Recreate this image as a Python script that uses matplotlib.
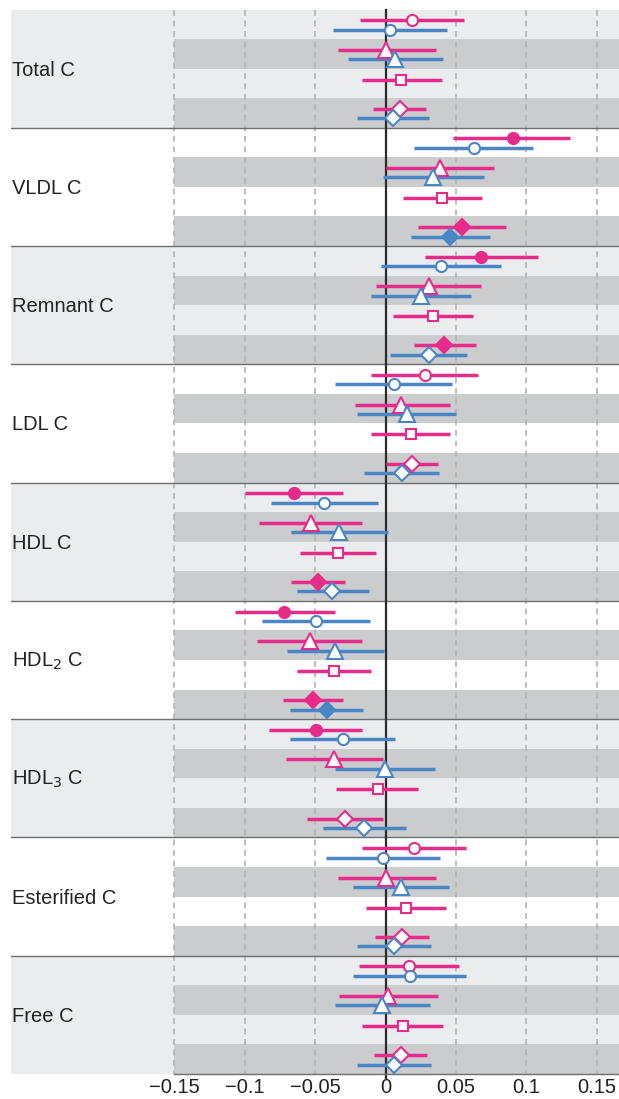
import matplotlib.pyplot as plt
from matplotlib.patches import Rectangle
from matplotlib import font_manager

names = {f.name for f in font_manager.fontManager.ttflist}
if 'Liberation Sans Narrow' in names:
    plt.rcParams['font.family'] = ['Liberation Sans Narrow', 'DejaVu Sans']
    LABEL_SIZE, TICK_SIZE = 17, 16.5
else:
    plt.rcParams['font.family'] = ['Liberation Sans', 'DejaVu Sans']
    LABEL_SIZE, TICK_SIZE = 14.5, 14.5

groups = ["Total C", "VLDL C", "Remnant C", "LDL C", "HDL C",
          "HDL$_2$ C", "HDL$_3$ C", "Esterified C", "Free C"]

# (estimate, lower, upper) per group
circle_pink = [(0.019, -0.018, 0.056), (0.0905, 0.048, 0.131), (0.068, 0.028, 0.108),
               (0.028, -0.010, 0.066), (-0.065, -0.0995, -0.030), (-0.072, -0.107, -0.036),
               (-0.0496, -0.0825, -0.0165), (0.020, -0.017, 0.057), (0.0168, -0.019, 0.0525)]
circle_blue = [(0.003, -0.037, 0.044), (0.0626, 0.020, 0.105), (0.0395, -0.003, 0.082),
               (0.006, -0.036, 0.047), (-0.0435, -0.0816, -0.0054), (-0.0496, -0.088, -0.011),
               (-0.0305, -0.068, 0.007), (-0.0017, -0.0425, 0.0385), (0.0173, -0.023, 0.057)]
tri_pink = [(0.0, -0.034, 0.036), (0.039, 0.0, 0.077), (0.031, -0.0066, 0.068),
            (0.011, -0.022, 0.046), (-0.053, -0.090, -0.0168), (-0.054, -0.091, -0.017),
            (-0.0364, -0.071, -0.0017), (0.0, -0.034, 0.0355), (0.002, -0.033, 0.037)]
tri_blue = [(0.007, -0.027, 0.041), (0.034, -0.002, 0.070), (0.025, -0.010, 0.0605),
            (0.015, -0.020, 0.050), (-0.033, -0.067, 0.0017), (-0.036, -0.070, -0.001),
            (-0.0007, -0.036, 0.035), (0.011, -0.023, 0.045), (-0.0024, -0.036, 0.0314)]
square_pink = [(0.011, -0.017, 0.040), (0.040, 0.0125, 0.0686), (0.034, 0.0054, 0.062),
               (0.018, -0.010, 0.046), (-0.034, -0.061, -0.0069), (-0.0364, -0.063, -0.010),
               (-0.0057, -0.035, 0.023), (0.0144, -0.014, 0.043), (0.0125, -0.0165, 0.041)]
diamond_pink = [(0.010, -0.009, 0.029), (0.054, 0.0234, 0.0853), (0.0414, 0.020, 0.064),
                (0.0187, 0.0, 0.0376), (-0.048, -0.067, -0.029), (-0.0515, -0.0726, -0.030),
                (-0.029, -0.056, -0.002), (0.0116, -0.0073, 0.031), (0.011, -0.0085, 0.0296)]
diamond_blue = [(0.005, -0.020, 0.031), (0.046, 0.018, 0.074), (0.031, 0.0033, 0.058),
                (0.0116, -0.015, 0.038), (-0.038, -0.063, -0.012), (-0.0416, -0.068, -0.016),
                (-0.015, -0.0445, 0.0147), (0.006, -0.0206, 0.032), (0.0057, -0.020, 0.032)]

# filled marker = True
circle_pink_filled = [False, True, True, False, True, True, True, False, False]
diamond_pink_filled = [False, True, True, False, True, True, False, False, False]
diamond_blue_filled = [False, True, False, False, False, True, False, False, False]

ticks = [-0.15, -0.1, -0.05, 0, 0.05, 0.1, 0.15]
tick_labels = ["\u22120.15", "\u22120.1", "\u22120.05", "0", "0.05", "0.1", "0.15"]

PINK = "#e62b8a"
BLUE = "#4a86c6"
LIGHT = "#ebeced"
DARK = "#cbcccd"


def draw_series(ax, data, row, offset, color, marker, ms, filled=None):
    for g, (est, lo, hi) in enumerate(data):
        y = 4 * g + row + 0.5 + offset
        ax.plot([lo, hi], [y, y], color=color, lw=2.5, solid_capstyle='butt', zorder=4)
        face = color if (filled is not None and filled[g]) else "white"
        ax.plot(est, y, marker=marker, ms=ms, mfc=face, mec=color, mew=1.5, zorder=5)


def main():
    fig = plt.figure(figsize=(6.19, 10.99), dpi=100)
    ax = fig.add_axes([11 / 619, 25 / 1099, 608 / 619, 1064.5 / 1099])
    xmin, xmax = -0.266, 0.1658
    ax.set_xlim(xmin, xmax)
    ax.set_ylim(4 * len(groups), 0)

    for g, name in enumerate(groups):
        top = 4 * g
        if g % 2 == 0:
            ax.add_patch(Rectangle((xmin, top), xmax - xmin, 4, color=LIGHT, lw=0, zorder=0))
        for r in (1, 3):
            ax.add_patch(Rectangle((-0.15, top + r), xmax + 0.15, 1, color=DARK, lw=0, zorder=1))
        if g > 0:
            ax.plot([xmin, xmax], [top, top], color="#6e6e6e", lw=1.0, zorder=3)
        ax.text(xmin + 0.001, top + 2.05, name, fontsize=LABEL_SIZE, color="#222222",
                va='center', ha='left')

    for t in ticks:
        if t == 0:
            continue
        ax.plot([t, t], [0, 36], color="#b3b3b3", lw=1.2, ls=(0, (3.5, 2.8)), zorder=2)
    ax.plot([0, 0], [0, 36.15], color="#2b2b2b", lw=1.6, zorder=3, clip_on=False)
    ax.plot([-0.15, xmax], [36, 36], color="#6e6e6e", lw=1.0, zorder=3, clip_on=False)

    draw_series(ax, circle_pink, 0, -0.14, PINK, 'o', 8, circle_pink_filled)
    draw_series(ax, circle_blue, 0, 0.18, BLUE, 'o', 8)
    draw_series(ax, tri_pink, 1, -0.14, PINK, '^', 11)
    draw_series(ax, tri_blue, 1, 0.18, BLUE, '^', 11)
    draw_series(ax, square_pink, 2, -0.13, PINK, 's', 7.5)
    draw_series(ax, diamond_pink, 3, -0.14, PINK, 'D', 8.2, diamond_pink_filled)
    draw_series(ax, diamond_blue, 3, 0.18, BLUE, 'D', 8.2, diamond_blue_filled)

    for s in ax.spines.values():
        s.set_visible(False)
    ax.set_yticks([])
    ax.set_xticks(ticks)
    ax.set_xticklabels(tick_labels, fontsize=TICK_SIZE, color="#222222")
    ax.tick_params(axis='x', length=0, pad=3)

    plt.savefig("out.png", dpi=100)


if __name__ == "__main__":
    main()
